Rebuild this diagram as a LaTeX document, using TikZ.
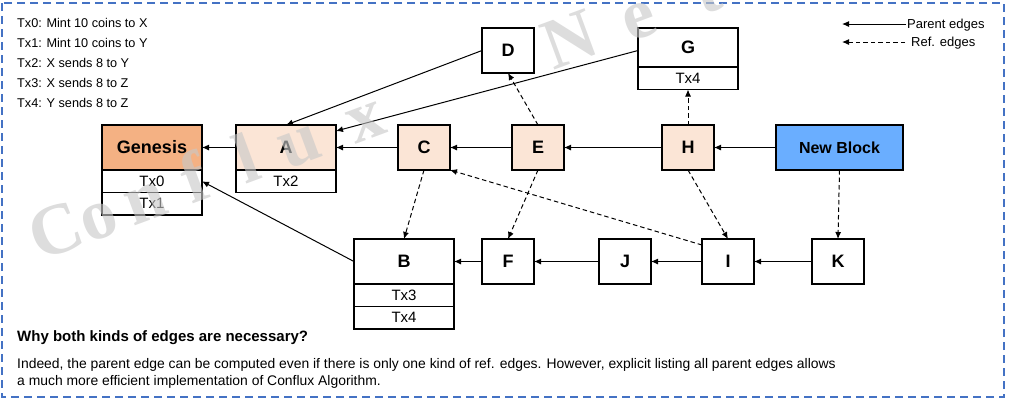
\documentclass[tikz,border=0pt]{standalone}
\usepackage{fontspec}
\setmainfont{Liberation Sans}
\newfontfamily\wmfont{Liberation Serif}
\usetikzlibrary{arrows.meta}
\definecolor{genfill}{HTML}{F4B183}
\definecolor{blkfill}{HTML}{FBE5D6}
\definecolor{newfill}{HTML}{6AAEFF}
\definecolor{frameblue}{HTML}{4472C4}
\definecolor{wmgray}{HTML}{C8C8C8}
\begin{document}
\begin{tikzpicture}[x=1pt,y=-1pt,
  box/.style={draw=black, line width=1.4pt, inner sep=0pt, outer sep=0pt,
    font=\fontsize{18}{18}\selectfont\bfseries, anchor=north west},
  hdr/.style={box, minimum height=45pt},
  sq/.style={hdr, minimum width=52pt},
  wide/.style={hdr, minimum width=100pt},
  row/.style={draw=black, line width=1.4pt, inner sep=0pt, outer sep=0pt,
    minimum height=22.5pt, minimum width=100pt,
    font=\fontsize{15}{15}\selectfont, anchor=north},
  par/.style={line width=1pt, -{Latex[length=7pt,width=6pt]}},
  refe/.style={par, dash pattern=on 4.5pt off 3pt},
  note/.style={anchor=base west, inner sep=0pt, font=\fontsize{12.7}{12.7}\selectfont},
  wm/.style={anchor=base, inner sep=0pt, rotate=20.3, text=wmgray, opacity=0.62,
    font=\wmfont\fontsize{72}{72}\selectfont\bfseries},
]
\useasboundingbox (0,0) rectangle (1010,400);
\draw[frameblue, line width=1.5pt, dash pattern=on 8pt off 5pt] (2,3) rectangle (1004,397);

% notes
\node[note] (n0) at (17,27) {Tx0: Mint 10 coins to X};
\node[note] (n1) at (17,47) {Tx1: Mint 10 coins to Y};
\node[note] (n2) at (17,67) {Tx2: X sends 8 to Y};
\node[note] (n3) at (17,87) {Tx3: X sends 8 to Z};
\node[note] (n4) at (17,107) {Tx4: Y sends 8 to Z};

% legend
\coordinate (lp1) at (906,24); \coordinate (lp2) at (842,24);
\draw[par] (lp1) -- (lp2);
\node[note, font=\fontsize{13}{13}\selectfont] (lpt) at (907,28) {Parent edges};
\coordinate (lr1) at (905,42); \coordinate (lr2) at (842,42);
\draw[refe] (lr1) -- (lr2);
\node[note, font=\fontsize{13}{13}\selectfont] (lrt) at (911,46) {Ref. edges};

% top row blocks
\node[wide, fill=genfill] (gen) at (102,125) {Genesis};
\node[row] (gen0) at (gen.south) {Tx0};
\node[row] (gen1) at (gen0.south) {Tx1};
\node[wide, fill=blkfill] (A) at (236,125) {A};
\node[row] (A0) at (A.south) {Tx2};
\node[sq, fill=blkfill] (C) at (398,125) {C};
\node[sq, fill=blkfill] (E) at (512,125) {E};
\node[sq, fill=blkfill] (H) at (662,125) {H};
\node[hdr, minimum width=127pt, fill=newfill, font=\fontsize{16}{16}\selectfont\bfseries] (NB) at (776,125) {New Block};
\node[sq, fill=white] (D) at (482,28) {D};
\node[wide, minimum height=39pt, fill=white] (G) at (638,28) {G};
\node[row] (G0) at (G.south) {Tx4};

% bottom row
\node[wide, fill=white] (B) at (354,239) {B};
\node[row] (B0) at (B.south) {Tx3};
\node[row] (B1) at (B0.south) {Tx4};
\node[sq, fill=white] (F) at (482,239) {F};
\node[sq, fill=white] (J) at (599,239) {J};
\node[sq, fill=white] (I) at (702,239) {I};
\node[sq, fill=white] (K) at (812,239) {K};

% parent edges
\draw[par] (A) -- (gen);
\draw[par] (C) -- (A);
\draw[par] (E) -- (C);
\draw[par] (H) -- (E);
\draw[par] (NB) -- (H);
\draw[par] (D.west) -- (A.north);
\draw[par] ([yshift=-3pt]G.west) -- ([yshift=-6pt]A.north east);
\draw[par] (B.west) -- (gen0.east);
\draw[par] (F) -- (B);
\draw[par] (J) -- (F);
\draw[par] (I) -- (J);
\draw[par] (K) -- (I);

% ref edges
\draw[refe] (E.north) -- (D.south);
\draw[refe] (H.north) -- (G0.south);
\draw[refe] (C.south) -- (B.north);
\draw[refe] (E.south) -- (F.north);
\draw[refe] (H.south) -- (I.north);
\draw[refe] (NB.south) -- (K.north);
\draw[refe] ([yshift=-6pt]I.north west) -- (C.south east);

% bottom text
\node[note, font=\fontsize{15}{15}\selectfont\bfseries] (q) at (17,341) {Why both kinds of edges are necessary?};
\node[note, font=\fontsize{13.9}{13.9}\selectfont] (t1) at (17,368) {Indeed, the parent edge can be computed even if there is only one kind of ref. edges. However, explicit listing all parent edges allows};
\node[note, font=\fontsize{13.9}{13.9}\selectfont] (t2) at (17,385) {a much more efficient implementation of Conflux Algorithm.};

% watermark
\begin{scope}
\clip (0,0) rectangle (1010,400);
\foreach \ch/\px/\py in {C/64/252, o/105/237, n/152/219.5, f/203/200.5, l/255/181.3, u/306/162.4, x/372/138, N/578/61.8, e/645.4/36.9, t/713.9/11.6, w/779.6/-12.7}
  \node[wm] at (\px,\py) {\ch};
\end{scope}
\end{tikzpicture}
\end{document}
